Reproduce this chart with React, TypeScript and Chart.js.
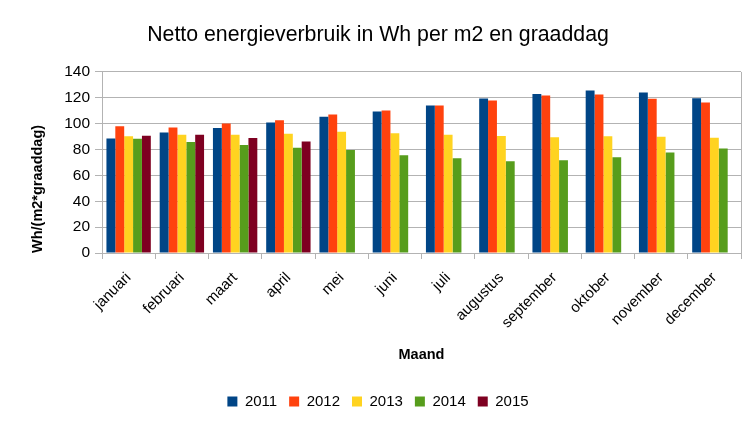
import React, { useEffect, useRef } from "react";
import { Chart, registerables } from "chart.js";

Chart.register(...registerables);

const months = [
  "januari", "februari", "maart", "april", "mei", "juni",
  "juli", "augustus", "september", "oktober", "november", "december",
];
const years = ["2011", "2012", "2013", "2014", "2015"];
const values2011 = [88.6, 93.2, 96.6, 101.0, 105.3, 109.4, 114.0, 119.4, 123.0, 125.6, 124.1, 119.7];
const values2012 = [98.1, 97.1, 100.2, 102.7, 107.1, 110.2, 114.0, 117.9, 121.8, 122.5, 119.2, 116.4];
const values2013 = [90.2, 91.4, 91.4, 92.2, 93.8, 92.7, 91.4, 90.4, 89.6, 90.2, 89.9, 89.1];
const values2014 = [88.4, 85.8, 83.5, 81.4, 79.6, 75.5, 73.2, 70.9, 71.7, 74.0, 77.8, 80.9];
const values2015 = [90.7, 91.4, 88.9, 86.3, null, null, null, null, null, null, null, null];
const colors = ["#004586", "#ff420e", "#ffd320", "#579d1c", "#7e0021"];
const yTicksMax = 140;
const yTickStep = 20;

const GRID = "#b3b3b3";
const FONT = "'Liberation Sans', Arial, sans-serif";

const rightBorder = {
  id: "rightBorder",
  afterDraw(chart: any) {
    const { ctx, chartArea } = chart;
    ctx.save();
    ctx.strokeStyle = GRID;
    ctx.lineWidth = 1;
    ctx.beginPath();
    const x = Math.round(chartArea.right) + 0.5;
    ctx.moveTo(x, chartArea.top);
    ctx.lineTo(x, chartArea.bottom);
    ctx.stroke();
    ctx.restore();
  },
};

export default function App() {
  const ref = useRef<HTMLCanvasElement | null>(null);

  useEffect(() => {
    if (!ref.current) return;
    Chart.defaults.font.family = FONT;
    Chart.defaults.color = "#000000";
    const series = [values2011, values2012, values2013, values2014, values2015];
    const chart = new Chart(ref.current, {
      type: "bar",
      data: {
        labels: months,
        datasets: years.map((y, i) => ({
          label: y,
          data: series[i],
          backgroundColor: colors[i],
          borderWidth: 0,
          categoryPercentage: 5 / 6,
          barPercentage: 1,
        })),
      },
      options: {
        responsive: false,
        animation: false,
        layout: { padding: { left: 0, right: 0, top: 0, bottom: 6 } },
        plugins: {
          title: {
            display: true,
            text: "Netto energieverbruik in Wh per m2 en graaddag",
            color: "#000",
            font: { size: 21.3, weight: "normal", family: FONT },
            padding: { top: 22.2, bottom: 24.2 },
          },
          legend: {
            position: "bottom",
            labels: {
              boxWidth: 10,
              boxHeight: 10,
              padding: 12,
              color: "#000",
              font: { size: 15, family: FONT },
            },
          },
          tooltip: { enabled: false },
        },
        scales: {
          x: {
            offset: true,
            grid: {
              display: true,
              drawOnChartArea: false,
              drawTicks: true,
              tickLength: 6,
              color: GRID,
              offset: true,
            },
            border: { display: true, color: GRID },
            ticks: {
              color: "#000",
              font: { size: 15, family: FONT },
              minRotation: 45,
              maxRotation: 45,
              padding: 10,
              autoSkip: false,
            },
            title: {
              display: true,
              text: "Maand",
              color: "#000",
              font: { size: 14.5, weight: "bold", family: FONT },
              padding: { top: 0, bottom: 18.5 },
            },
            afterFit: (scale: any) => {
              scale.height = 129;
            },
          },
          y: {
            min: 0,
            max: yTicksMax,
            grid: { color: GRID, tickLength: 7, drawTicks: true },
            border: { display: true, color: GRID },
            ticks: {
              stepSize: yTickStep,
              color: "#000",
              font: { size: 15.5, family: FONT },
              padding: 5,
            },
            title: {
              display: true,
              text: "Wh/(m2*graaddag)",
              align: "start",
              color: "#000",
              font: { size: 14.5, weight: "bold", family: FONT },
              padding: { top: 28.8, bottom: 0 },
            },
            afterFit: (scale: any) => {
              scale.width = 102;
            },
          },
          spacer: {
            type: "linear",
            position: "right",
            display: true,
            grid: { display: false, drawTicks: false },
            border: { display: false },
            ticks: { display: false },
            afterFit: (scale: any) => {
              scale.width = 15;
            },
          },
        },
      },
      plugins: [rightBorder],
    } as any);
    return () => chart.destroy();
  }, []);

  return (
    <div style={{ position: "absolute", left: 0, top: 0, width: 756, height: 425, background: "#fff" }}>
      <canvas ref={ref} width={756} height={425} />
    </div>
  );
}
